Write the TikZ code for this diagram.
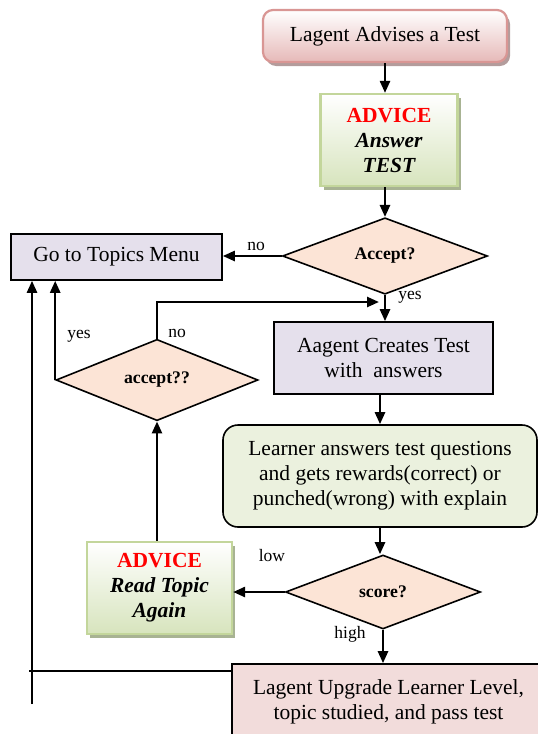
\documentclass[tikz,border=0pt]{standalone}
\usepackage{fontspec}
\setmainfont{Liberation Serif}
\usetikzlibrary{arrows.meta,shapes.geometric,shadows,calc}

\definecolor{pinkedge}{HTML}{D99694}
\definecolor{pinkfill}{HTML}{E6B9B8}
\definecolor{pinkshadow}{HTML}{B39C9C}
\definecolor{greenedge}{HTML}{C3D69B}
\definecolor{greenfill}{HTML}{D7E4BD}
\definecolor{greenshadow}{HTML}{A8B393}
\definecolor{lavender}{HTML}{E5E0EC}
\definecolor{lightgreen}{HTML}{EBF1DE}
\definecolor{peach}{HTML}{FCE4D6}
\definecolor{rose}{HTML}{F2DCDB}
\definecolor{advred}{HTML}{FF0000}

\tikzset{
  base/.style={align=center, inner sep=0pt, font=\fontsize{21.5}{25}\selectfont},
  startbox/.style={base, rounded corners=10pt, draw=pinkedge, line width=2.2pt,
    top color=white, bottom color=pinkfill,
    drop shadow={fill=pinkshadow, opacity=1, shadow xshift=3pt, shadow yshift=-4pt}},
  advicebox/.style={base, draw=greenedge, line width=2.2pt,
    top color=white, bottom color=greenfill,
    drop shadow={fill=greenshadow, opacity=1, shadow xshift=3pt, shadow yshift=-4pt}},
  plainbox/.style={base, draw=black, line width=1.6pt, fill=lavender},
  roundbox/.style={base, draw=black, line width=1.6pt, fill=lightgreen, rounded corners=15pt},
  endbox/.style={base, draw=black, line width=1.6pt, fill=rose},
  decision/.style={diamond, draw=black, line width=1.6pt, fill=peach, inner sep=0pt,
    font=\fontsize{17.7}{21}\selectfont\bfseries},
  lbl/.style={font=\fontsize{17.5}{21}\selectfont, inner sep=0pt},
  arr/.style={line width=2.5pt, -{Triangle[length=12pt,width=10pt]}},
  wire/.style={line width=2.5pt},
}

\begin{document}
\begin{tikzpicture}[x=1pt,y=-1pt]
\useasboundingbox (0,0) rectangle (538,734);

% boxes
\node[startbox, minimum width=244pt, minimum height=52pt] (top) at (385,36) {Lagent Advises a Test};
\node[advicebox, minimum width=137pt, minimum height=92pt] (adv1) at (389,140)
  {{\color{advred}\bfseries ADVICE}\\\bfseries\itshape Answer\\\bfseries\itshape TEST};
\node[decision, minimum width=205pt, minimum height=75pt] (acc) at (385,256) {Accept?};
\node[plainbox, minimum width=211pt, minimum height=46pt] (menu) at (116.5,257) {Go to Topics Menu};
\node[plainbox, minimum width=219pt, minimum height=72pt] (create) at (383.5,358)
  {Aagent Creates Test\\with\ \ answers};
\node[decision, minimum width=202pt, minimum height=74pt] (accq) at (157,380) {accept??};
\node[roundbox, minimum width=314pt, minimum height=102pt] (learn) at (380,476)
  {Learner answers test questions\\and gets rewards(correct) or\\punched(wrong) with explain};
\node[decision, minimum width=195pt, minimum height=74pt] (score) at (383,592) {score?};
\node[advicebox, minimum width=145pt, minimum height=92pt] (adv2) at (159.5,588)
  {{\color{advred}\bfseries ADVICE}\\\bfseries\itshape Read Topic\\\bfseries\itshape Again};
\node[endbox, minimum width=313pt, minimum height=76pt] (upgrade) at (388.5,702)
  {Lagent Upgrade Learner Level,\\topic studied, and pass test};

% free ends of the return lines
\coordinate (join) at (379,302);
\coordinate (turn) at (29,671);
\coordinate (foot) at (32,704);

% connectors
\draw[arr] (top.south) -- (top.south |- adv1.north);
\draw[arr] (acc.north |- adv1.south) -- (acc.north);
\draw[arr] (acc.west) -- (acc.west -| menu.east);
\draw[arr] (acc.south) -- (acc.south |- create.north);
\draw[arr] (accq.north) |- (join);
\draw[arr] (accq.west) -- (accq.west |- menu.south);
\draw[arr] (create.south -| learn.north) -- (learn.north);
\draw[arr] (learn.south) -- (learn.south |- score.north);
\draw[arr] (score.west) -- (score.west -| adv2.east);
\draw[arr] (accq.south |- adv2.north) -- (accq.south);
\draw[arr] (score.south) -- (score.south |- upgrade.north);
\draw[wire] (upgrade.west |- turn) -- (turn);
\draw[arr] (foot) -- (foot |- menu.south);

% branch labels
\node[lbl] (lno1) at (256,246) {no};
\node[lbl] (lyes1) at (410,297) {yes};
\node[lbl] (lno2) at (177,333) {no};
\node[lbl] (lyes2) at (79,336) {yes};
\node[lbl] (llow) at (272,556) {low};
\node[lbl] (lhigh) at (350,634) {high};
\end{tikzpicture}
\end{document}
